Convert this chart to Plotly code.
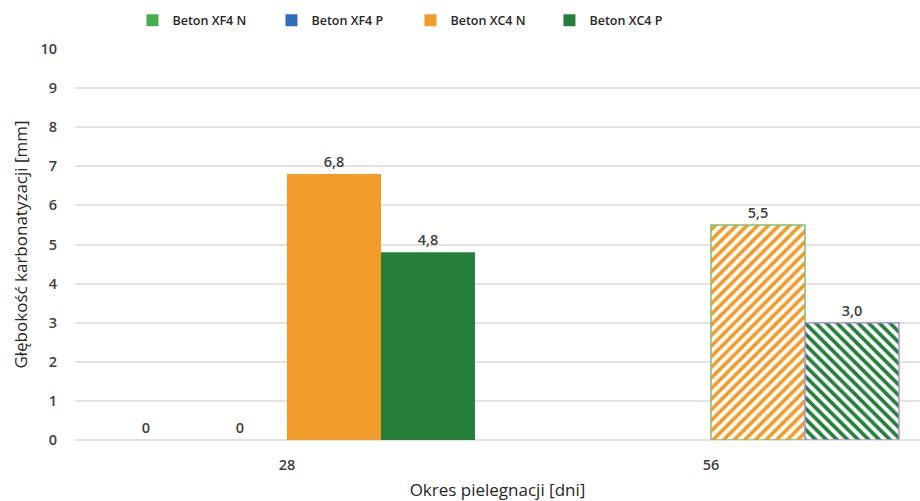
import plotly.graph_objects as go

# Curing period categories (days)
periods = ["28", "56"]

# Carbonation depth [mm] per concrete series
xf4_n = [0, None]
xf4_p = [0, None]
xc4_n = [6.8, 5.5]
xc4_p = [4.8, 3.0]

series_names = ["Beton XF4 N", "Beton XF4 P", "Beton XC4 N", "Beton XC4 P"]

C_XF4N = "#43AE4B"
C_XF4P = "#2F6DB8"
C_XC4N = "#F19B2B"
C_XC4P = "#257F3B"
TEXT = "#404040"
FONT = "Open Sans"

fig = go.Figure()

fig.add_trace(go.Bar(
    name=series_names[0], x=periods, y=xf4_n,
    marker=dict(color=C_XF4N, line=dict(width=0)),
    texttemplate="%{y}", textposition="outside",
))
fig.add_trace(go.Bar(
    name=series_names[1], x=periods, y=xf4_p,
    marker=dict(color=C_XF4P, line=dict(width=0)),
    texttemplate="%{y}", textposition="outside",
))
fig.add_trace(go.Bar(
    name=series_names[2], x=periods, y=xc4_n,
    marker=dict(
        color=C_XC4N,
        line=dict(color=[C_XC4N, "#7DC26C"], width=[0, 1.5]),
        pattern=dict(shape=["", "/"], fgcolor=C_XC4N, bgcolor="white",
                     fgopacity=1, size=7.5, solidity=0.5),
    ),
    texttemplate="%{y:.1f}", textposition="outside",
))
fig.add_trace(go.Bar(
    name=series_names[3], x=periods, y=xc4_p,
    marker=dict(
        color=C_XC4P,
        line=dict(color=[C_XC4P, "#B592D8"], width=[0, 1.5]),
        pattern=dict(shape=["", "\\"], fgcolor=C_XC4P, bgcolor="white",
                     fgopacity=1, size=7.5, solidity=0.5),
    ),
    texttemplate="%{y:.1f}", textposition="outside",
))

fig.update_traces(
    textfont=dict(family=FONT, size=14.5, color=TEXT, weight=600),
    cliponaxis=False,
)

fig.update_layout(
    width=920, height=501,
    margin=dict(l=75, r=0, t=49, b=61),
    paper_bgcolor="white", plot_bgcolor="white",
    separators=", ",
    barmode="group", bargap=0.113, bargroupgap=0,
    font=dict(family=FONT, size=13, color=TEXT),
    showlegend=True,
    legend=dict(
        orientation="h", x=0.068, xanchor="left", y=0.929, yanchor="bottom",
        yref="container", entrywidth=94, entrywidthmode="pixels",
        font=dict(family=FONT, size=12.5, color="#262626", weight=600),
        traceorder="normal",
    ),
    xaxis=dict(
        type="category", range=[-0.5, 1.493],
        showgrid=False, showline=False, ticks="", ticklabelstandoff=14,
        tickfont=dict(family=FONT, size=14.5, color=TEXT, weight=600),
        title=dict(text="Okres pielegnacji [dni]", standoff=16,
                   font=dict(family=FONT, size=17, color="#262626")),
    ),
    yaxis=dict(
        range=[0, 10], dtick=1,
        showgrid=True, gridcolor="#E3E3E3", gridwidth=1.5,
        zeroline=True, zerolinecolor="#E3E3E3", zerolinewidth=1.5,
        showline=False, ticks="", ticklabelstandoff=17,
        tickfont=dict(family=FONT, size=14.5, color=TEXT, weight=600),
        title=dict(text="Głębokość karbonatyzacji [mm]", standoff=8,
                   font=dict(family=FONT, size=17, color="#262626")),
    ),
)

fig.write_html("out.html")
